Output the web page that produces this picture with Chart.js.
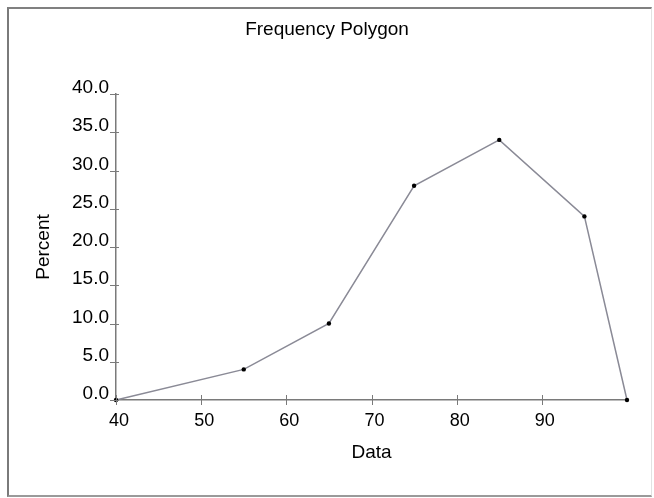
<!DOCTYPE html>
<html>
<head>
<meta charset="utf-8">
<script src="https://cdn.jsdelivr.net/npm/chart.js@4"></script>
<style>
  html, body { margin: 0; padding: 0; background: #fff; }
  #wrap { position: relative; width: 654px; height: 498px; }
  #frame { position: absolute; left: 7px; top: 7px; width: 642px; height: 486px;
    border-top: 2px solid #808080; border-left: 2px solid #7a7a7a;
    border-bottom: 2px solid #9a9a9a; border-right: 1px solid #e2e2e2; pointer-events: none; }
  canvas { position: absolute; left: 0; top: 0; }
</style>
</head>
<body>
<div id="wrap">
  <canvas id="c" width="654" height="498"></canvas>
  <div id="frame"></div>
</div>
<script>
const dataX = [40, 55, 65, 75, 85, 95, 100];
const percent = [0, 4, 10, 28, 34, 24, 0];
const xTickValues = [40, 50, 60, 70, 80, 90];
const yTickValues = [0, 5, 10, 15, 20, 25, 30, 35, 40];
const chartTitle = 'Frequency Polygon';
const xTitle = 'Data';
const yTitle = 'Percent';

const FONT = 'Liberation Sans, Arial, sans-serif';

const crossTicks = {
  id: 'crossTicks',
  afterDraw(chart) {
    const ctx = chart.ctx;
    const xs = chart.scales.x, ys = chart.scales.y;
    ctx.save();
    ctx.strokeStyle = '#7a7a7a';
    ctx.lineWidth = 1;
    ctx.beginPath();
    xs.ticks.forEach(t => {
      const px = Math.round(xs.getPixelForValue(t.value)) + 0.5;
      ctx.moveTo(px, ys.bottom - 5);
      ctx.lineTo(px, ys.bottom + 5);
    });
    ys.ticks.forEach(t => {
      const py = Math.round(ys.getPixelForValue(t.value)) + 0.5;
      ctx.moveTo(xs.left - 6, py);
      ctx.lineTo(xs.left + 3, py);
    });
    ctx.stroke();
    ctx.restore();
  }
};

new Chart(document.getElementById('c'), {
  type: 'line',
  data: {
    datasets: [{
      data: dataX.map((x, i) => ({ x: x, y: percent[i] })),
      borderColor: '#8a8a96',
      borderWidth: 1.5,
      pointRadius: 2.2,
      pointBackgroundColor: '#000',
      pointBorderColor: '#000',
      pointBorderWidth: 0,
      tension: 0,
      fill: false,
      clip: false
    }]
  },
  options: {
    responsive: false,
    animation: false,
    devicePixelRatio: 1,
    layout: { padding: { left: 0, right: 0, top: 0, bottom: 0 } },
    plugins: {
      legend: { display: false },
      tooltip: { enabled: false },
      title: {
        display: true,
        text: chartTitle,
        color: '#000',
        font: { family: FONT, size: 19, weight: 'normal' },
        padding: { top: 18.6, bottom: 52.6 }
      }
    },
    scales: {
      x: {
        type: 'linear',
        min: 40,
        max: 100,
        afterBuildTicks: s => { s.ticks = xTickValues.map(v => ({ value: v })); },
        afterFit: s => { s.height = 98; },
        grid: { display: true, drawOnChartArea: false, drawTicks: false },
        border: { display: true, color: '#7a7a7a', width: 1.5 },
        ticks: {
          color: '#000',
          font: { family: FONT, size: 18 },
          padding: 10,
          labelOffset: 3,
          maxRotation: 0,
          callback: v => String(v)
        },
        title: {
          display: true,
          text: xTitle,
          color: '#000',
          font: { family: FONT, size: 19 },
          padding: { top: 0, bottom: 34 }
        }
      },
      y: {
        type: 'linear',
        min: 0,
        max: 40,
        afterBuildTicks: s => { s.ticks = yTickValues.map(v => ({ value: v })); },
        afterFit: s => { s.width = 116; },
        grid: { display: true, drawOnChartArea: false, drawTicks: false },
        border: { display: true, color: '#7a7a7a', width: 1.5 },
        ticks: {
          color: '#000',
          font: { family: FONT, size: 19 },
          padding: 7,
          labelOffset: -6,
          callback: v => Number(v).toFixed(1)
        },
        title: {
          display: true,
          text: yTitle,
          color: '#000',
          font: { family: FONT, size: 19 },
          padding: { top: 32, bottom: 0 }
        }
      },
      yRight: {
        type: 'linear',
        position: 'right',
        display: true,
        afterFit: s => { s.width = 27; },
        grid: { display: false },
        border: { display: false },
        ticks: { display: false }
      }
    }
  },
  plugins: [crossTicks]
});
</script>
</body>
</html>
